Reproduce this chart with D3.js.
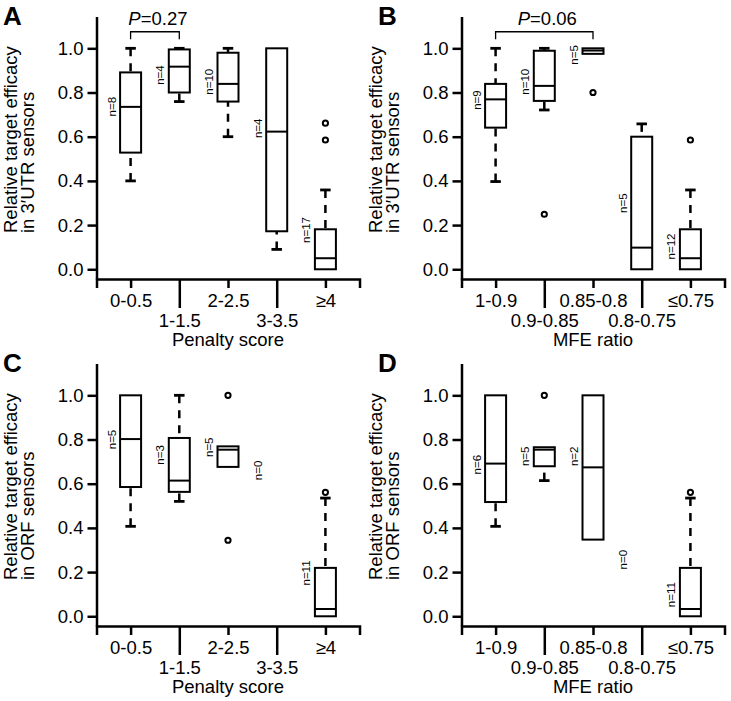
<!DOCTYPE html>
<html>
<head>
<meta charset="utf-8">
<script src="https://cdn.jsdelivr.net/npm/d3@7/dist/d3.min.js"></script>
<style>
  html, body { margin: 0; padding: 0; background: #fff; }
  svg { display: block; font-family: Arial, "Liberation Sans", Helvetica, sans-serif; }
</style>
</head>
<body>
<svg id="chart" width="731" height="701"></svg>
<script>
// ---------- data ----------
const penaltyCategories = ["0-0.5", "1-1.5", "2-2.5", "3-3.5", "≥4"];
const mfeCategories = ["1-0.9", "0.9-0.85", "0.85-0.8", "0.8-0.75", "≤0.75"];
const yTickValues = [0, 0.2, 0.4, 0.6, 0.8, 1.0];

// stats per box: [lower whisker, Q1, median, Q3, upper whisker]
const statsA = [[0.40, 0.528, 0.735, 0.891, 1.0], [0.759, 0.80, 0.917, 0.995, 1.0], [0.60, 0.759, 0.839, 0.98, 1.0], [0.09, 0.172, 0.623, 1.0, 1.0], [0, 0, 0.05, 0.181, 0.359]];
const outliersA = [[], [], [], [], [0.661, 0.585]];
const countsA = [8, 4, 10, 4, 17];
const countLabelAtA = [0.736, 0.879, 0.849, 0.638, 0.178];

const statsB = [[0.397, 0.641, 0.769, 0.839, 1.0], [0.721, 0.762, 0.830, 0.989, 1.0], [0.975, 0.975, 0.99, 1.0, 1.0], [0, 0, 0.098, 0.60, 0.658], [0, 0, 0.05, 0.181, 0.359]];
const outliersB = [[], [0.249], [0.80], [], [0.585]];
const countsB = [9, 10, 5, 5, 12];
const countLabelAtB = [0.766, 0.849, 0.97, 0.299, 0.103];

const statsC = [[0.407, 0.585, 0.802, 1.0, 1.0], [0.52, 0.563, 0.614, 0.807, 1.0], [0.676, 0.676, 0.754, 0.769, 0.769], null, [0, 0, 0.033, 0.219, 0.535]];
const outliersC = [[], [], [1.0, 0.344], [], [0.561]];
const countsC = [5, 3, 5, 0, 11];
const countLabelAtC = [0.80, 0.73, 0.765, 0.66, 0.196];

const statsD = [[0.407, 0.517, 0.691, 1.0, 1.0], [0.614, 0.679, 0.754, 0.765, 0.765], [0.347, 0.347, 0.674, 1.0, 1.0], null, [0, 0, 0.033, 0.219, 0.535]];
const outliersD = [[], [1.0], [], [], [0.561]];
const countsD = [6, 5, 2, 0, 11];
const countLabelAtD = [0.686, 0.724, 0.724, 0.256, 0.098];

const pValueA = { from: 1, to: 2, label: "0.27" };
const pValueB = { from: 1, to: 3, label: "0.06" };

// ---------- drawing ----------
const svg = d3.select("#chart");
const FONT = 18.5;

const panels = [
  { letter: "A", ox: 0, oy: 0, letterX: 3, cats: penaltyCategories, xTitle: "Penalty score", yTitle2: "in 3\u2032UTR sensors", stats: statsA, outliers: outliersA, counts: countsA, countAt: countLabelAtA, p: pValueA },
  { letter: "B", ox: 365, oy: 0, letterX: 13, cats: mfeCategories, xTitle: "MFE ratio", yTitle2: "in 3\u2032UTR sensors", stats: statsB, outliers: outliersB, counts: countsB, countAt: countLabelAtB, p: pValueB },
  { letter: "C", ox: 0, oy: 347, letterX: 3, cats: penaltyCategories, xTitle: "Penalty score", yTitle2: "in ORF sensors", stats: statsC, outliers: outliersC, counts: countsC, countAt: countLabelAtC, p: null },
  { letter: "D", ox: 365, oy: 347, letterX: 13, cats: mfeCategories, xTitle: "MFE ratio", yTitle2: "in ORF sensors", stats: statsD, outliers: outliersD, counts: countsD, countAt: countLabelAtD, p: null }
];

panels.forEach(P => {
  const g = svg.append("g").attr("transform", `translate(${P.ox},${P.oy})`);
  const x = d3.scaleLinear().domain([0.3, 5.7]).range([96.5, 359.5]);
  const y = d3.scaleLinear().domain([-0.044, 1.144]).range([279, 16.5]);
  const boxW = 21;
  const capW = 10.5;

  // panel letter
  g.append("text").attr("x", P.letterX).attr("y", 25)
    .attr("font-size", 26).attr("font-weight", "bold").text(P.letter);

  // y axis
  const ya = g.append("g").attr("transform", `translate(${x(0.3)},0)`)
    .call(d3.axisLeft(y).tickValues(yTickValues).tickSize(9).tickSizeOuter(0).tickPadding(4).tickFormat(d3.format(".1f")));
  ya.select(".domain").attr("stroke-width", 2.5);
  ya.selectAll(".tick line").attr("stroke-width", 2.5);
  ya.selectAll(".tick text").attr("font-size", FONT).attr("font-family", null).attr("fill", "#000");

  // x axis
  const xa = g.append("g").attr("transform", `translate(0,${y(-0.044)})`)
    .call(d3.axisBottom(x).tickValues([1, 2, 3, 4, 5]).tickSizeOuter(0).tickSize(9).tickFormat((d) => P.cats[d - 1]));
  xa.select(".domain").attr("stroke-width", 2.5);
  xa.selectAll(".tick line").attr("stroke-width", 2.5).attr("y2", d => d % 2 === 0 ? 29 : 9);
  xa.selectAll(".tick text").attr("font-size", FONT).attr("font-family", null).attr("fill", "#000")
    .attr("dy", null).attr("y", d => d % 2 === 0 ? 48 : 27.5);

  // axis titles
  g.append("text").attr("x", (x(0.3) + x(5.7)) / 2).attr("y", 346)
    .attr("text-anchor", "middle").attr("font-size", FONT).text(P.xTitle);
  g.append("text").attr("transform", "translate(16.5,233) rotate(-90)")
    .attr("font-size", FONT).text("Relative target efficacy");
  g.append("text").attr("transform", "translate(33.5,233) rotate(-90)")
    .attr("font-size", FONT).text(P.yTitle2);

  // boxes
  const boxes = g.append("g");
  P.stats.forEach((s, i) => {
    const cx = x(i + 1);
    if (s) {
      const [lo, q1, med, q3, hi] = s;
      // whiskers (drawn from whisker end toward the hinge)
      if (hi > q3) {
        boxes.append("line").attr("x1", cx).attr("x2", cx).attr("y1", y(hi)).attr("y2", y(q3))
          .attr("stroke", "#000").attr("stroke-width", 2.5).attr("stroke-dasharray", "8,7");
        boxes.append("line").attr("x1", cx - capW / 2).attr("x2", cx + capW / 2).attr("y1", y(hi)).attr("y2", y(hi))
          .attr("stroke", "#000").attr("stroke-width", 2.8);
      }
      if (lo < q1) {
        boxes.append("line").attr("x1", cx).attr("x2", cx).attr("y1", y(lo)).attr("y2", y(q1))
          .attr("stroke", "#000").attr("stroke-width", 2.5).attr("stroke-dasharray", "8,7");
        boxes.append("line").attr("x1", cx - capW / 2).attr("x2", cx + capW / 2).attr("y1", y(lo)).attr("y2", y(lo))
          .attr("stroke", "#000").attr("stroke-width", 2.8);
      }
      boxes.append("rect").attr("x", cx - boxW / 2).attr("y", y(q3)).attr("width", boxW)
        .attr("height", Math.max(0, y(q1) - y(q3)))
        .attr("fill", "#fff").attr("stroke", "#000").attr("stroke-width", 2);
      boxes.append("line").attr("x1", cx - boxW / 2).attr("x2", cx + boxW / 2).attr("y1", y(med)).attr("y2", y(med))
        .attr("stroke", "#000").attr("stroke-width", 2);
    }
    P.outliers[i].forEach(v => {
      boxes.append("circle").attr("cx", cx).attr("cy", y(v)).attr("r", 2.6)
        .attr("fill", "none").attr("stroke", "#000").attr("stroke-width", 2);
    });
    // n labels
    g.append("text").attr("transform", `translate(${cx - 15},${y(P.countAt[i])}) rotate(-90)`)
      .attr("text-anchor", "middle").attr("font-size", 11.5).text("n=" + P.counts[i]);
  });

  // p-value bracket
  if (P.p) {
    const x1 = x(P.p.from), x2 = x(P.p.to);
    g.append("path")
      .attr("d", `M${x1},${y(1.041)}V${y(1.075)}H${x2}V${y(1.041)}`)
      .attr("fill", "none").attr("stroke", "#000").attr("stroke-width", 1.3);
    const t = g.append("text").attr("x", (x1 + x2) / 2 + 3).attr("y", 25)
      .attr("text-anchor", "middle").attr("font-size", FONT);
    t.append("tspan").attr("font-style", "italic").text("P");
    t.append("tspan").text("=" + P.p.label);
  }
});
</script>
</body>
</html>
